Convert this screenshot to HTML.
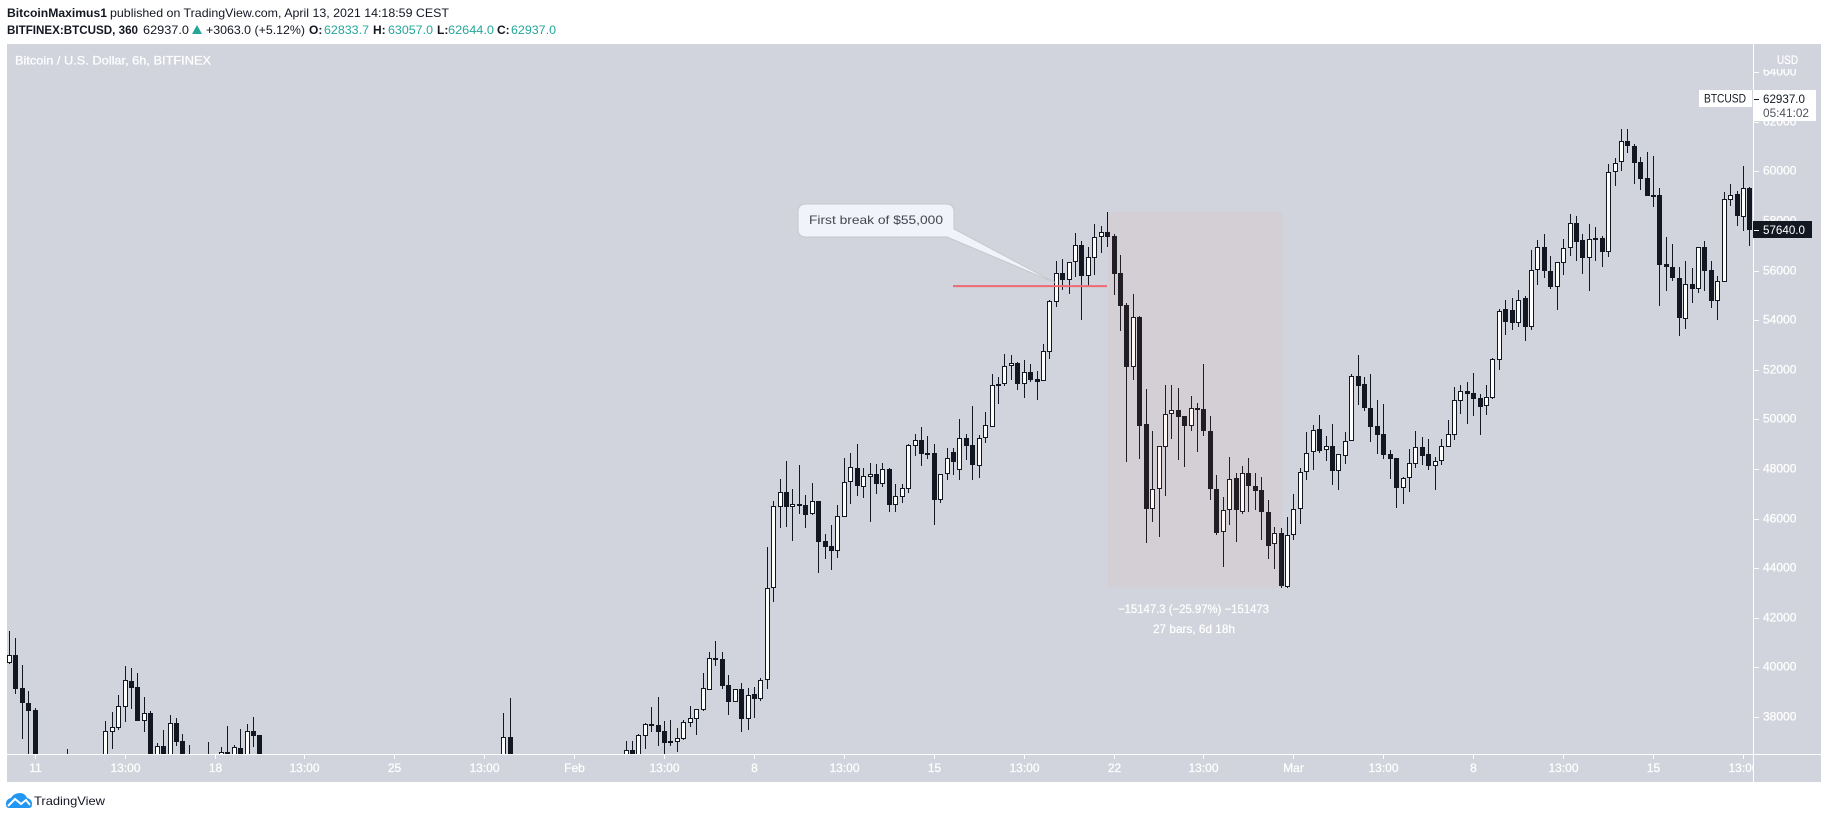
<!DOCTYPE html>
<html lang="en">
<head>
<meta charset="utf-8">
<title>BTCUSD 6h chart</title>
<style>
html,body{margin:0;padding:0;background:#fff;width:1828px;height:819px;overflow:hidden}
svg{display:block}
text{font-family:"Liberation Sans",sans-serif;font-size:12px}
</style>
</head>
<body>
<svg id="chart" xmlns="http://www.w3.org/2000/svg" width="1828" height="819" viewBox="0 0 1828 819">
  <defs>
    <clipPath id="pane-clip"><rect x="7" y="44" width="1746" height="710"/></clipPath>
    <clipPath id="time-clip"><rect x="7" y="755" width="1746" height="27"/></clipPath>
  </defs>
  <g fill="#131722">
    <text x="7" y="17" font-weight="700" textLength="100" lengthAdjust="spacingAndGlyphs">BitcoinMaximus1</text>
    <text x="110" y="17" textLength="339" lengthAdjust="spacingAndGlyphs">published on TradingView.com, April 13, 2021 14:18:59 CEST</text>
  </g>
  <g fill="#131722">
    <text x="7" y="34" font-weight="700" textLength="131" lengthAdjust="spacingAndGlyphs">BITFINEX:BTCUSD, 360</text>
    <text x="143" y="34" textLength="46" lengthAdjust="spacingAndGlyphs">62937.0</text>
    <polygon points="192,34 202,34 197,25" fill="#26a69a"/>
    <text x="206" y="34" textLength="99" lengthAdjust="spacingAndGlyphs">+3063.0 (+5.12%)</text>
    <text x="309" y="34" font-weight="700">O:</text>
    <text x="324" y="34" fill="#26a69a" textLength="45" lengthAdjust="spacingAndGlyphs">62833.7</text>
    <text x="373" y="34" font-weight="700">H:</text>
    <text x="388" y="34" fill="#26a69a" textLength="45" lengthAdjust="spacingAndGlyphs">63057.0</text>
    <text x="437" y="34" font-weight="700">L:</text>
    <text x="448" y="34" fill="#26a69a" textLength="46" lengthAdjust="spacingAndGlyphs">62644.0</text>
    <text x="497" y="34" font-weight="700">C:</text>
    <text x="511" y="34" fill="#26a69a" textLength="45" lengthAdjust="spacingAndGlyphs">62937.0</text>
  </g>
  <rect x="7" y="44" width="1814" height="738" fill="#d1d4dc"/>
  <text x="15" y="64.5" fill="#fff" stroke="#fff" stroke-width="0.25" textLength="196" lengthAdjust="spacingAndGlyphs">Bitcoin / U.S. Dollar, 6h, BITFINEX</text>
  <g id="candles" clip-path="url(#pane-clip)" shape-rendering="crispEdges"></g>
  <g id="drawings"></g>
  <g id="axes"></g>
  <g id="labels"></g>
  <g>
    <path d="M9 808 Q6 808 6 804 Q6 799 11 798 Q14 793 20 793 Q25 793 27 798 Q32 799 32 804 Q32 808 29 808 Z" fill="#2196f3"/>
    <polyline points="8,806 15,799 21,804 26,800 30,805" fill="none" stroke="#fff" stroke-width="2"/>
    <text x="34" y="805" font-size="13" fill="#131722" textLength="71" lengthAdjust="spacingAndGlyphs">TradingView</text>
  </g>
</svg>
<script>
// Prices per 6h bar, null = bar lies fully outside the visible price range
const opens = [
40190,40500,39160,38570,38290,null,null,null,null,36400,
null,null,null,null,null,36400,37410,37570,38420,39460,
39220,37840,38170,36400,36840,36400,37760,37040,36400,null,
null,36400,null,36400,36600,36400,36760,36400,37450,37280,
null,null,null,null,null,null,null,null,null,null,
null,null,null,null,null,null,null,null,null,null,
null,null,null,null,null,null,null,null,null,null,
null,null,null,null,null,null,null,36400,37200,null,
null,null,null,null,null,null,null,null,null,null,
null,null,null,null,null,null,36400,36660,36400,37250,
37710,37670,37430,37030,37010,37130,37780,37940,38300,39110,
40380,40330,39280,38620,39120,37940,38930,38740,39490,43190,
46490,47080,46490,46580,46540,46200,46710,45100,44900,44710,
46080,47470,48040,47290,47700,47790,47410,47990,46570,46890,
47210,48940,49160,48650,48640,46740,47800,48690,47960,49250,
48960,48130,49240,49710,51340,51420,52150,52270,51420,51900,
51620,51560,52730,54750,55900,55640,56340,57020,55800,56530,
57350,57550,57400,55910,54620,52130,54130,49820,46380,47190,
48900,50210,50370,50130,49750,50450,50410,49540,47190,45480,
46340,47630,46280,47830,47310,47150,46260,44970,45410,43260,
45330,46380,47870,48680,49610,48760,48920,47940,48540,49150,
51740,51420,50450,49730,49400,48600,48440,47250,47630,48220,
48890,48600,48140,48340,48900,49390,50760,51140,51060,50860,
50560,50870,52410,54460,54420,53900,54900,53740,56030,56960,
55990,55360,56320,56900,57920,57230,56530,57320,57320,56750,
59970,60370,61230,61030,60380,59740,59050,59050,56270,56150,
55710,54070,55460,55250,56960,56030,54790,55560,58860,59090,
58180,59340];
const highs = [
41470,41190,40100,39050,38370,null,null,null,null,36700,
null,null,null,null,null,37830,38210,38890,40060,39980,
39780,38810,38250,36960,37460,38090,37960,37320,36880,null,
null,37000,null,36800,37640,36880,37520,37720,38010,37280,
null,null,null,null,null,null,null,null,null,null,
null,null,null,null,null,null,null,null,null,null,
null,null,null,null,null,null,null,null,null,null,
null,null,null,null,null,null,null,38170,38770,null,
null,null,null,null,null,null,null,null,null,null,
null,null,null,null,null,null,37040,37040,37310,37760,
38410,38810,37840,37880,37560,37880,38450,38330,39780,40630,
41070,40630,39700,39130,39380,39180,39220,39580,44860,46710,
47590,48320,47200,48170,46960,47440,46710,45370,45730,46550,
48450,48650,49010,48040,48250,48210,48250,48040,47400,47400,
49010,49400,49690,49320,49000,47790,48840,48840,50020,49420,
50550,49380,50290,51830,51720,52640,52600,52320,52390,52240,
51940,53030,54810,56380,56460,56340,57510,57190,56940,57870,
57790,58350,57480,56630,54700,55060,54170,51230,49540,48920,
51390,51390,51270,50140,50940,50670,52240,50140,47760,46880,
48480,47840,48110,48440,47840,47680,46760,45670,45630,46070,
47000,48030,49500,49780,50180,49340,49820,48600,49500,51830,
52600,51720,51830,50790,50630,48770,48450,47670,48800,49520,
49300,49220,48490,49200,49980,51310,51390,51510,51880,51030,
51390,52480,54460,54820,54900,55220,54980,56830,57240,57480,
56590,56350,57270,58290,58210,57480,57880,57760,57400,60300,
60540,61710,61710,61110,60590,60790,60630,59340,57360,57080,
56150,56390,56110,56960,57200,56390,55790,59170,59500,59210,
60220,59380];
const lows = [
40140,38940,37130,36270,35800,null,null,null,null,36000,
null,null,null,null,null,36200,36730,37480,37800,38330,
37840,37400,36200,36300,36300,36300,36840,36200,36100,null,
null,36100,null,36300,36300,36300,36300,36300,36800,36300,
null,null,null,null,null,null,null,null,null,null,
null,null,null,null,null,null,null,null,null,null,
null,null,null,null,null,null,null,null,null,null,
null,null,null,null,null,null,null,36300,36300,null,
null,null,null,null,null,null,null,null,null,null,
null,null,null,null,null,null,36300,36300,36300,36720,
37400,36840,36500,36840,36600,37080,37600,37280,38260,39100,
40060,39150,38090,38620,37400,37460,37980,38650,39150,42650,
45640,45680,45110,46200,45640,46160,43820,44390,43940,44430,
46080,46610,46930,46850,45880,47010,47290,46280,46280,46650,
47050,48540,48140,48420,45760,46620,47560,47760,47560,48370,
47560,47640,49040,49700,50610,51360,51590,51190,50870,51520,
50790,51560,52450,54550,55230,55070,55760,54020,55400,55840,
56700,56940,55020,53570,48300,51590,48410,45020,45870,45260,
46920,49220,48370,48090,49550,48690,49350,46760,45340,44070,
45750,45060,46190,46270,46350,45140,44380,43970,43210,43220,
45140,45790,47560,47960,48650,48330,47360,47160,48210,49150,
50590,50340,49090,48610,48410,47600,46430,46590,47080,48040,
48170,47960,47160,48170,48900,49170,50220,49820,50140,49380,
50180,50830,52000,53410,53610,53730,53170,53610,55420,55710,
55260,54420,55830,56590,56390,55870,55180,56390,56150,56550,
59420,60020,60750,59500,59250,59010,58570,54580,55180,55590,
53370,53650,54700,55100,55180,54500,54010,55550,58610,57800,
57600,57000];
const closes = [
40490,39150,38580,38260,35870,null,null,null,null,36200,
null,null,null,null,null,37430,37590,38440,39490,39180,
37840,38160,36400,36820,36400,37750,37000,36400,36300,null,
null,36300,null,36580,36400,36800,36400,37430,37240,36400,
null,null,null,null,null,null,null,null,null,null,
null,null,null,null,null,null,null,null,null,null,
null,null,null,null,null,null,null,null,null,null,
null,null,null,null,null,null,null,37190,36400,null,
null,null,null,null,null,null,null,null,null,null,
null,null,null,null,null,null,36660,36400,37270,37710,
37650,37410,36960,36960,37150,37790,37950,38320,39160,40370,
40320,39270,38620,39120,37940,38880,38740,39490,43190,46500,
47070,46490,46580,46530,46160,46700,45070,44870,44710,46100,
47470,48070,47330,47710,47790,47410,47990,46570,46910,47230,
48960,49160,48620,48610,46770,47790,48450,48290,49240,48940,
48170,49240,49770,51380,51420,52150,52270,51420,51900,51610,
51520,52750,54770,55900,55640,56340,57020,55800,56540,57350,
57550,57370,55870,54580,52120,54120,49740,46390,47190,48920,
50210,50370,50110,49750,50450,50380,49540,47210,45420,46340,
47590,46360,47830,47330,47130,46280,44910,45410,43290,45330,
46380,47870,48640,49590,48730,48920,47940,48600,49120,51740,
51360,50450,49700,49380,48570,48410,47240,47630,48230,48880,
48540,48130,48320,48920,49400,50770,51140,51040,50840,50510,
50900,52430,54380,53930,53900,54820,53740,56030,56960,55990,
55340,56340,56900,57910,57160,56510,57270,57240,56750,59970,
60330,61220,61030,60340,59700,59010,59010,56230,56150,55710,
54090,55450,55260,56940,55990,54780,55570,58880,59040,58210,
59320,57640];
const priceTicks = [64000,62000,60000,58000,56000,54000,52000,50000,48000,46000,44000,42000,40000,38000];
const timeTickLabels = ['11','13:00','18','13:00','25','13:00','Feb','13:00','8','13:00','15','13:00','22','13:00','Mar','13:00','8','13:00','15','13:00'];
const timeTickFirstBar = 4;
const timeTickEvery = 14;
const measureBars = [171,198];
const measurePrices = [58360,43240];
const breakLineBars = [147,171];
const breakLinePrice = 55380;
const calloutTipBar = 163;
const calloutTipPrice = 55500;
const lastPriceValue = 62937.0;

const NS = 'http://www.w3.org/2000/svg';
const DARK = '#131722';
function xOf(i){ return Math.floor(9.5 + 6.422 * i); }
function yOf(p){ return (66915.3 - p) * 0.0248; }
function make(tag, parent, attrs){
  const el = document.createElementNS(NS, tag);
  for (const k in attrs) el.setAttribute(k, attrs[k]);
  parent.appendChild(el);
  return el;
}
const candles = document.getElementById('candles');
opens.forEach(function(o, i){
  if (o === null) return;
  const c = closes[i];
  const px = xOf(i);
  const up = c >= o;
  const wickTop = Math.round(yOf(highs[i]));
  const wickBot = Math.round(yOf(lows[i]));
  const wick = make('rect', candles, {x:px, y:wickTop, width:1, height:Math.max(1, wickBot - wickTop), fill:DARK});
  
  
  const top = Math.round(yOf(Math.max(o, c)));
  const bot = Math.round(yOf(Math.min(o, c)));
  const h = Math.max(2, bot - top);
  const body = up
    ? make('rect', candles, {x:px - 1.5, y:top + 0.5, width:4, height:Math.max(1, h - 1), fill:'#ffffff', stroke:DARK, 'stroke-width':1})
    : make('rect', candles, {x:px - 2, y:top, width:5, height:h, fill:DARK});
  
  
});

// Drawings
const drawings = document.getElementById('drawings');
const mx0 = xOf(measureBars[0]) + 1, mx1 = xOf(measureBars[1]) + 1;
const my0 = yOf(measurePrices[0]), my1 = yOf(measurePrices[1]);
const measure = make('rect', drawings, {x:mx0, y:my0, width:mx1 - mx0, height:my1 - my0, fill:'rgba(255,129,87,0.06)'});


const brk = make('line', drawings, {x1:xOf(breakLineBars[0]), x2:xOf(breakLineBars[1]), y1:yOf(breakLinePrice), y2:yOf(breakLinePrice), stroke:'#ee6a72', 'stroke-width':2});


const tipX = xOf(calloutTipBar), tipY = yOf(calloutTipPrice);
const bubble = make('path', drawings, {d:'M806 204 H946 Q954 204 954 212 V229 L' + tipX + ' ' + tipY + ' L947 237 H806 Q798 237 798 229 V212 Q798 204 806 204 Z', fill:'#f0f3fa', stroke:'#c6c7cc', 'stroke-width':1});


const callText = make('text', drawings, {x:809, y:224, fill:'#434651', 'font-size':13, textLength:134, lengthAdjust:'spacingAndGlyphs'});
callText.textContent = 'First break of $55,000';


const m1 = make('text', drawings, {x:1118, y:613, fill:'#ffffff', stroke:'#ffffff', 'stroke-width':0.25, textLength:151, lengthAdjust:'spacingAndGlyphs'});
m1.textContent = '\u221215147.3 (\u221225.97%) \u2212151473';


const m2 = make('text', drawings, {x:1153, y:633, fill:'#ffffff', stroke:'#ffffff', 'stroke-width':0.25, textLength:82, lengthAdjust:'spacingAndGlyphs'});
m2.textContent = '27 bars, 6d 18h';



// Axes
const axes = document.getElementById('axes');
const vAxis = make('rect', axes, {x:1753, y:44, width:1, height:738, fill:'#ffffff'});


const hAxis = make('rect', axes, {x:7, y:754, width:1814, height:1, fill:'#ffffff'});


const timeGroup = make('g', axes, {'clip-path':'url(#time-clip)'});


timeTickLabels.forEach(function(label, k){
  const px = xOf(timeTickFirstBar + k * timeTickEvery);
  const tick = make('rect', timeGroup, {x:px, y:755, width:1, height:4, fill:'#ffffff'});
  
  
  const t = make('text', timeGroup, {x:px + 0.5, y:772, fill:'#ffffff', stroke:'#ffffff', 'stroke-width':0.25, 'text-anchor':'middle', 'font-size':11.5});
  t.textContent = label;
  
  
});
priceTicks.forEach(function(p){
  const y = Math.round(yOf(p));
  const tick = make('rect', axes, {x:1754, y:y, width:5, height:1, fill:'#ffffff'});
  
  
  const t = make('text', axes, {x:1763, y:y + 3.5, fill:'#ffffff', stroke:'#ffffff', 'stroke-width':0.25, 'font-size':11.3});
  t.textContent = String(p);
  
  
});

// Price axis overlays
const labels = document.getElementById('labels');
const usdBg = make('rect', labels, {x:1754, y:44, width:67, height:25, fill:'#d1d4dc'});


const usd = make('text', labels, {x:1777, y:64, fill:'#ffffff', stroke:'#ffffff', 'stroke-width':0.25, 'font-size':12, textLength:21, lengthAdjust:'spacingAndGlyphs'});
usd.textContent = 'USD';


const yLast = Math.round(yOf(lastPriceValue));
const symBg = make('rect', labels, {x:1699, y:90, width:53, height:17, fill:'#ffffff'});


const sym = make('text', labels, {x:1704, y:102.5, fill:DARK, 'font-size':12, textLength:42, lengthAdjust:'spacingAndGlyphs'});
sym.textContent = 'BTCUSD';


const lastBg = make('rect', labels, {x:1754, y:90, width:62, height:31, fill:'#ffffff'});


const lastTick = make('rect', labels, {x:1754, y:yLast, width:5, height:1, fill:DARK});


const lastTxt = make('text', labels, {x:1763, y:103, fill:DARK, 'font-size':12, textLength:42, lengthAdjust:'spacingAndGlyphs'});
lastTxt.textContent = lastPriceValue.toFixed(1);


const cd = make('text', labels, {x:1763, y:117, fill:'#50535e', 'font-size':12, textLength:46, lengthAdjust:'spacingAndGlyphs'});
cd.textContent = '05:41:02';


const lastClose = closes[closes.length - 1];
const yClose = Math.round(yOf(lastClose));
const closeBg = make('rect', labels, {x:1753, y:yClose - 9, width:59, height:17, fill:DARK});


const closeTick = make('rect', labels, {x:1754, y:yClose, width:5, height:1, fill:'#ffffff'});


const closeTxt = make('text', labels, {x:1763, y:yClose + 4, fill:'#ffffff', 'font-size':12, textLength:42, lengthAdjust:'spacingAndGlyphs'});
closeTxt.textContent = lastClose.toFixed(1);


</script>
</body>
</html>
